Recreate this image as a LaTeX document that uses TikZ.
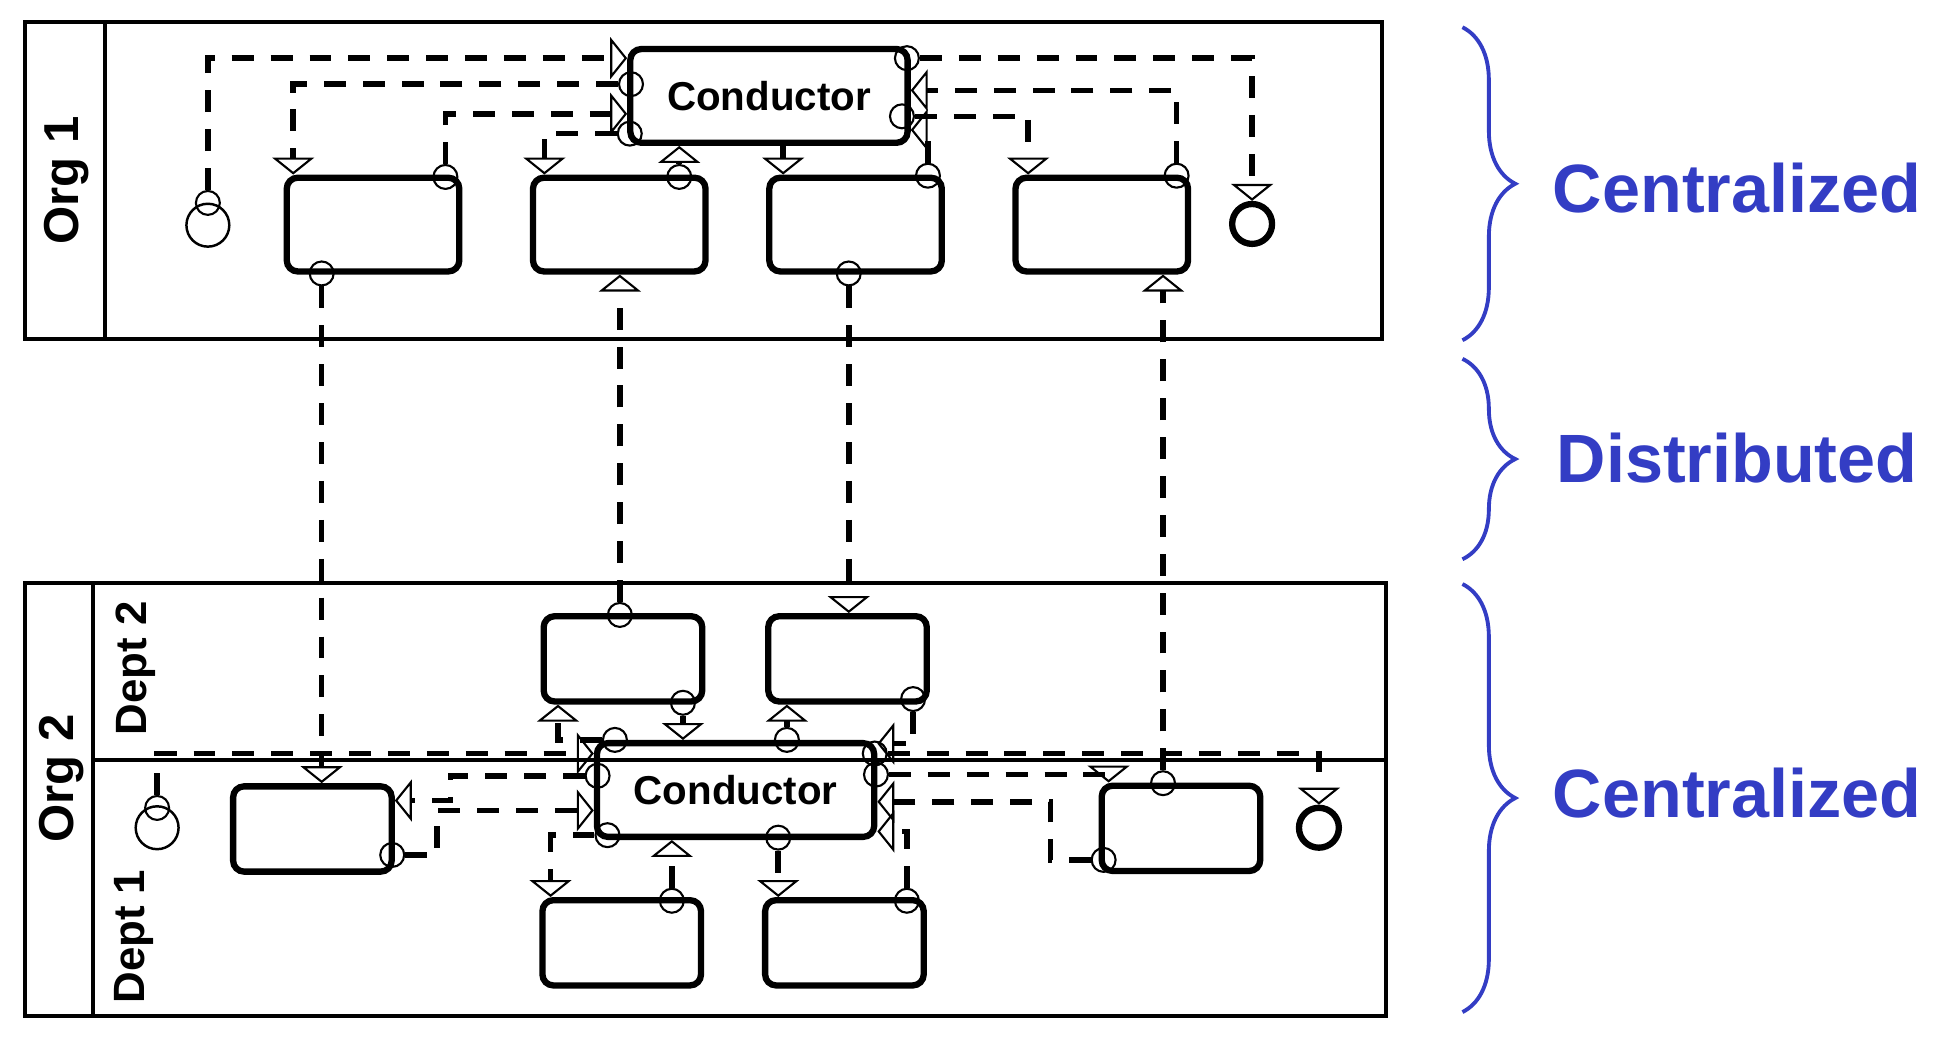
\documentclass[tikz,border=0pt]{standalone}
\usepackage{fontspec}
\setmainfont{Liberation Sans}
\usepackage{tikz}
\usetikzlibrary{arrows.meta,decorations.pathreplacing}
\definecolor{braceblue}{RGB}{51,61,196}

\begin{document}
\begin{tikzpicture}[x=0.0124cm,y=-0.0124cm,
  pool/.style={line width=1.1pt},
  task/.style={draw,line width=1.8pt,rounded corners=0.11cm,minimum width=1.73cm,minimum height=0.94cm,inner sep=0},
  subtask/.style={task,minimum width=1.59cm,minimum height=0.855cm},
  cond/.style={task,minimum width=2.78cm,font=\fontsize{11.5}{11.5}\selectfont\bfseries},
  port/.style={draw,circle,line width=0.6pt,minimum size=0.24cm,inner sep=0},
  startev/.style={draw,circle,line width=0.7pt,minimum size=0.43cm,inner sep=0},
  endev/.style={draw,circle,line width=1.8pt,minimum size=0.4cm,inner sep=0},
  flow/.style={line width=1.6pt,dash pattern=on 0.22cm off 0.17cm,-{Triangle[open,width=0.42cm,length=0.17cm,line width=0.6pt]}},
  lane/.style={rotate=90,font=\fontsize{14}{14}\selectfont\bfseries},
  dept/.style={rotate=90,font=\fontsize{12.5}{12.5}\selectfont\bfseries},
  sidebrace/.style={draw=braceblue,line width=1.1pt,decorate,decoration={brace,amplitude=0.53cm}},
  side/.style={text=braceblue,font=\fontsize{19.5}{20}\selectfont\bfseries}]
\useasboundingbox (0,0) rectangle (1568,841);

% Org 1
\draw[pool] (20,18) rectangle (1117,274);
\draw[pool] (85,18) -- (85,274);
\node[lane] (org1) at (54,146) {Org 1};
\node[cond] (cond1) at (621.5,77.5) {Conductor};
\node[task] (a1) at (301.5,181.5) {};
\node[task] (a2) at (500.5,181.5) {};
\node[task] (a3) at (691.5,181.5) {};
\node[task] (a4) at (890.5,181.5) {};
\node[startev] (start1) at (168,182) {};
\node[endev] (end1) at (1012,181) {};

% Org 2
\draw[pool] (20,471) rectangle (1120,821);
\draw[pool] (75,471) -- (75,821);
\draw[pool] (75,614) -- (1120,614);
\node[lane] (org2) at (50,629) {Org 2};
\node[dept] (dept2) at (110,540) {Dept 2};
\node[dept] (dept1) at (108,757) {Dept 1};
\node[subtask] (d1) at (503.5,532.5) {};
\node[subtask] (d2) at (685,532.5) {};
\node[cond] (cond2) at (594.5,638.5) {Conductor};
\node[subtask] (b1) at (252.5,670) {};
\node[subtask] (b2) at (502.5,762) {};
\node[subtask] (b3) at (682.5,762) {};
\node[subtask] (r1) at (954.5,669.5) {};
\node[startev] (start2) at (127,669) {};
\node[endev] (end2) at (1066,669) {};

\foreach \n/\x/\y in {s1p/168/164, c1a/510/68, a1p/360/143, c1b/509/108, a2p/549/143,
    a3p/750/142, c1d/733/47, a4p/951/142, c1e/729/94, a1q/260/221, a3q/686/221,
    d1q/501/497, r1q/940/633, s2p/127/653, c2a/483/627, b1p/317/691, c2b/491/675,
    c2c/497/598, d1p/552/568, c2d/636/598, d2p/738/565, c2e/707/609, c2f/708/626,
    r1p/892/695, b3p/733/728, c2g/629/677, b2p/543/728}
  \node[port] (\n) at (\x,\y) {};

\draw[flow] (s1p) |- (cond1.west |- 0,47);
\draw[flow] (c1a) -| (237,0 |- a1.north);
\draw[flow] (a1p) |- (cond1.west |- 0,92);
\draw[flow] (c1b) -| (440,0 |- a2.north);
\draw[flow] (a2p) -- (a2p |- cond1.south);
\draw[flow] (633,0 |- cond1.south) -- (633,0 |- a3.north);
\draw[flow] (a3p) |- (cond1.east |- 0,105);
\draw[flow] (c1d) -| (end1);
\draw[flow] (a4p) |- (cond1.east |- 0,73);
\draw[flow] (c1e) -| (831,0 |- a4.north);

\draw[flow] (a1q) -- (a1q |- b1.north);
\draw[flow] (d1q) -- (d1q |- a2.south);
\draw[flow] (a3q) -- (a3q |- d2.north);
\draw[flow] (r1q) -- (r1q |- a4.south);

\draw[flow] (s2p) |- (cond2.west |- 0,609);
\draw[flow] (c2a) -| (364,647) -- (b1.east |- 0,647);
\draw[flow] (b1p) -| (353,655) -- (cond2.west |- 0,655);
\draw[flow] (c2b) -| (445,0 |- b2.north);
\draw[flow] (c2c) -| (451,0 |- d1.south);
\draw[flow] (d1p) -- (d1p |- cond2.north);
\draw[flow] (c2d) -- (c2d |- d2.south);
\draw[flow] (d2p) |- (cond2.east |- 0,601);
\draw[flow] (c2e) -| (end2);
\draw[flow] (c2f) -| (896,0 |- r1.north);
\draw[flow] (r1p) -| (849,648) -- (cond2.east |- 0,648);
\draw[flow] (b3p) |- (cond2.east |- 0,672);
\draw[flow] (c2g) -- (c2g |- b3.north);
\draw[flow] (b2p) -- (b2p |- cond2.south);

% scope labels
\draw[sidebrace] (1182,22) -- (1182,275);
\draw[sidebrace] (1182,290) -- (1182,452);
\draw[sidebrace] (1182,472) -- (1182,818);
\node[side] (cent1) at (1404,152) {Centralized};
\node[side] (dist) at (1404,370) {Distributed};
\node[side] (cent2) at (1404,641) {Centralized};
\end{tikzpicture}
\end{document}
